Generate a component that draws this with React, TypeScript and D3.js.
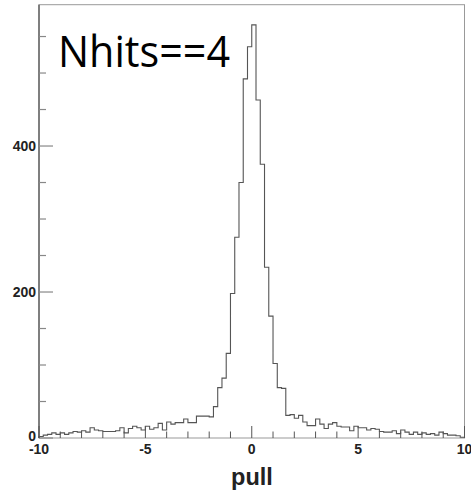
import React from "react";
import * as d3 from "d3";

const binEdgesStart = -10;
const binWidth = 0.2;
const counts = [
  2, 4, 5, 7, 5, 7, 5, 7, 9, 8,
  10, 8, 14, 11, 10, 9, 9, 9, 10, 14,
  7, 13, 16, 14, 11, 16, 12, 14, 20, 11,
  22, 19, 21, 21, 26, 21, 21, 30, 30, 30,
  29, 43, 69, 82, 116, 198, 275, 350, 492, 536,
  566, 463, 375, 234, 167, 102, 69, 68, 31, 32,
  27, 31, 22, 17, 17, 26, 19, 13, 19, 21,
  16, 15, 15, 10, 16, 14, 14, 11, 13, 12,
  9, 8, 8, 10, 6, 11, 8, 5, 8, 5,
  7, 5, 6, 4, 8, 6, 4, 4, 3, 1,
];
const yMajorTicks = [0, 200, 400];
const yMinorTicks = [50, 100, 150, 250, 300, 350, 450, 500, 550];
const xMajorTicks = [-10, -5, 0, 5, 10];
const xMinorTicks = [-9, -8, -7, -6, -4, -3, -2, -1, 1, 2, 3, 4, 6, 7, 8, 9];
const xTitle = "pull";
const annotation = "Nhits==4";

export default function App() {
  const W = 471;
  const H = 491;
  const left = 39;
  const right = 464.5;
  const top = 4.7;
  const bottom = 438;
  const x = d3.scaleLinear().domain([-10, 10]).range([left, right]);
  const y = d3.scaleLinear().domain([0, 593.6]).range([bottom, top]);

  const pts: [number, number][] = [[-10, 0]];
  counts.forEach((c, i) => {
    const l = binEdgesStart + i * binWidth;
    pts.push([l, c]);
    pts.push([l + binWidth, c]);
  });
  pts.push([10, 0]);
  const line = d3
    .line<[number, number]>()
    .x((d) => x(d[0]))
    .y((d) => y(d[1]));

  const labelFont = "'Liberation Sans', Arial, Helvetica, sans-serif";
  const tickColor = "#888";

  return (
    <svg
      width={W}
      height={H}
      style={{ position: "absolute", left: 0, top: 0, background: "#fff" }}
    >
      <rect x={0} y={0} width={W} height={H} fill="#fff" />
      <rect
        x={left}
        y={top}
        width={right - left}
        height={bottom - top}
        fill="none"
        stroke="#999"
        strokeWidth={1}
      />
      <line x1={left} x2={left} y1={top} y2={bottom} stroke="#777" strokeWidth={1.8} />
      {yMajorTicks.map((t) => (
        <line key={"ym" + t} x1={left} x2={left + 14} y1={y(t)} y2={y(t)} stroke={tickColor} strokeWidth={1.2} />
      ))}
      {yMinorTicks.map((t) => (
        <line key={"yn" + t} x1={left} x2={left + 7} y1={y(t)} y2={y(t)} stroke={tickColor} strokeWidth={1.2} />
      ))}
      {xMajorTicks.map((t) => (
        <line key={"xm" + t} x1={x(t)} x2={x(t)} y1={bottom} y2={bottom - 12} stroke="#555" strokeWidth={1} />
      ))}
      {xMinorTicks.map((t) => (
        <line key={"xn" + t} x1={x(t)} x2={x(t)} y1={bottom} y2={bottom - 6.5} stroke="#555" strokeWidth={1} />
      ))}
      <path d={line(pts) || ""} fill="none" stroke="#555" strokeWidth={1.1} />
      {yMajorTicks.map((t) => (
        <text
          key={"yl" + t}
          x={left - 3}
          y={t === 0 ? y(t) - 2 : y(t)}
          dy="0.36em"
          textAnchor="end"
          fontFamily={labelFont}
          fontWeight="bold"
          fontSize={14}
          fill="#222"
        >
          {t}
        </text>
      ))}
      {xMajorTicks.map((t) => (
        <text
          key={"xl" + t}
          x={x(t)}
          y={454}
          textAnchor="middle"
          fontFamily={labelFont}
          fontWeight="bold"
          fontSize={14}
          fill="#222"
        >
          {t}
        </text>
      ))}
      <text
        x={252}
        y={485}
        textAnchor="middle"
        fontFamily={labelFont}
        fontWeight="bold"
        fontSize={23.5}
        fill="#222"
      >
        {xTitle}
      </text>
      <text
        x={58}
        y={67}
        fontFamily="'Open Sans', 'Noto Sans', sans-serif"
        fontSize={43}
        fill="#000"
        textLength={172}
        lengthAdjust="spacingAndGlyphs"
      >
        {annotation}
      </text>
    </svg>
  );
}
